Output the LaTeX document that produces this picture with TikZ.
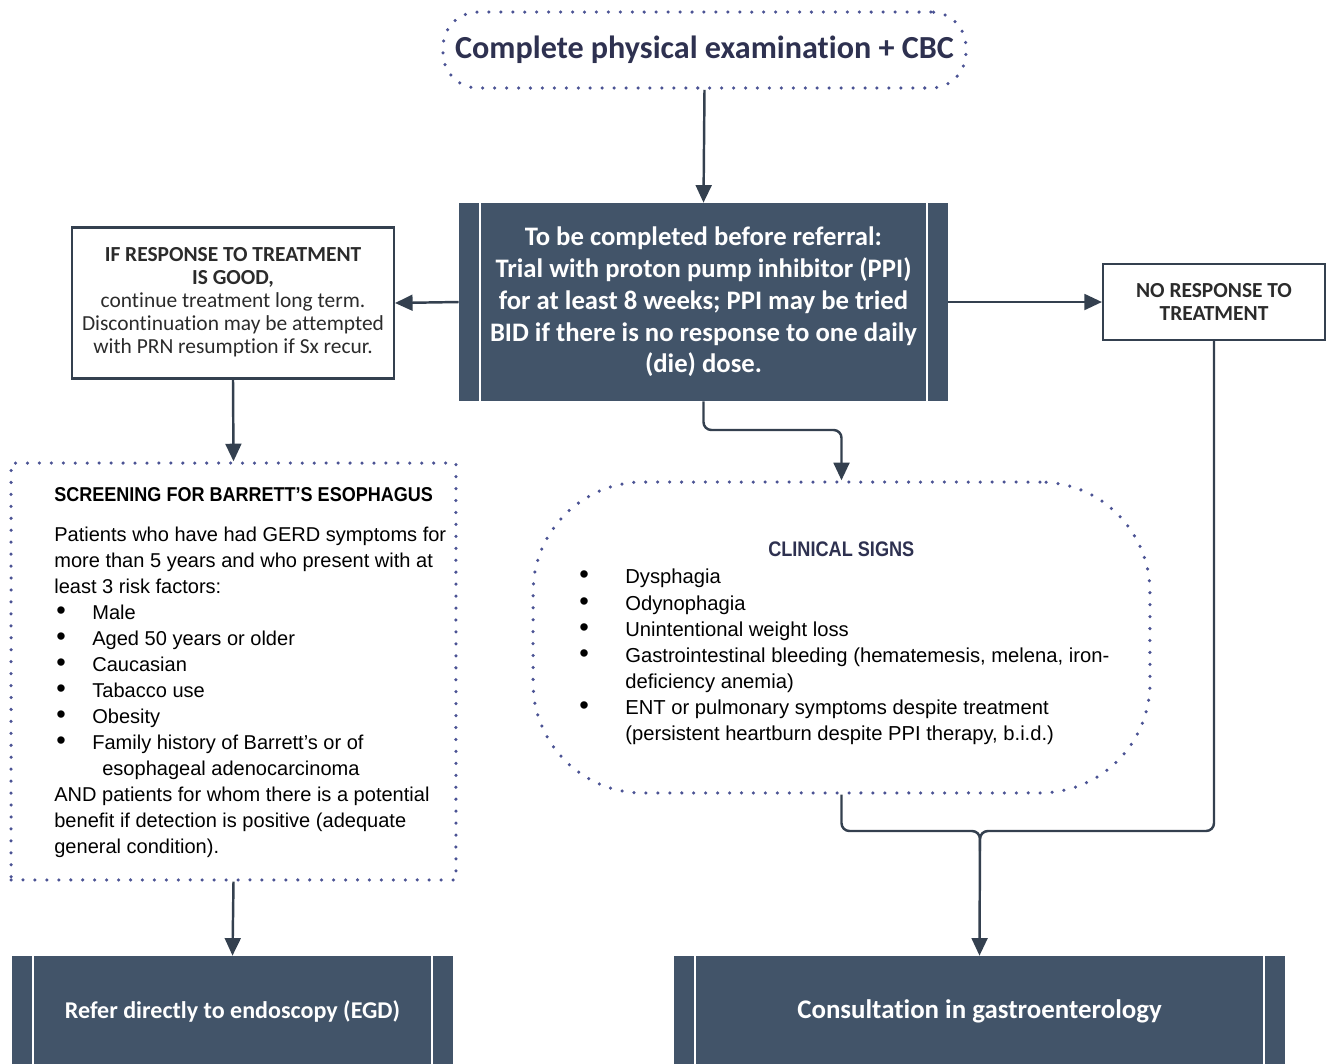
\documentclass[tikz,border=0pt]{standalone}
\usepackage{fontspec}
\setmainfont{Liberation Sans}
\newfontfamily\calfont[Ligatures=NoCommon]{Carlito}
\newfontfamily\narrowfont[FakeStretch=0.86]{Liberation Sans}
\newfontfamily\headfont[FakeStretch=0.9]{Liberation Sans}
\usetikzlibrary{arrows.meta}
\definecolor{slate}{HTML}{425469}
\definecolor{edgecol}{HTML}{34404F}
\definecolor{dotcol}{HTML}{4B5394}
\definecolor{navy}{HTML}{2E3150}
\definecolor{greytext}{HTML}{2B2B2B}
\newcommand{\bigdot}{\scalebox{1.35}{\textbullet}}
\newcommand{\bitem}[1]{\makebox[0.76cm][l]{\hspace{1.2pt}\bigdot}#1}
\newcommand{\citem}[1]{\makebox[0.96cm][l]{\hspace{1.2pt}\bigdot}#1}

\begin{document}
\begin{tikzpicture}[x=0.02cm,y=-0.02cm]
\tikzset{procbox/.style={fill=slate, text=white, align=center, inner sep=0pt}}
\tikzset{linebox/.style={draw=edgecol, line width=1.2pt, align=center, text=greytext, inner sep=0pt}}
\tikzset{dotline/.style={draw=dotcol, line width=2pt, line cap=round, dash pattern=on 0pt off 6.8pt}}
\tikzset{barline/.style={draw=white, line width=1.3pt}}
\tikzset{conn/.style={draw=edgecol, line width=1.4pt}}
\tikzset{arr/.style={conn, -{Triangle[length=10pt, width=9pt]}}}
\useasboundingbox (0,0) rectangle (1326,1063);

\node[dotline, rounded corners=0.7cm, minimum width=10.46cm, minimum height=1.52cm, inner sep=0pt, text=navy, font=\calfont\bfseries\fontsize{18.3}{22}\selectfont] (exam) at (704.5,50) {Complete physical examination + CBC};

\node[procbox, minimum width=9.78cm, minimum height=3.96cm, font=\calfont\bfseries\fontsize{15.2}{18.1}\selectfont] (ppi) at (703.5,302) {To be completed before referral:\\ Trial with proton pump inhibitor (PPI)\\ for at least 8 weeks; PPI may be tried\\ BID if there is no response to one daily\\ (die) dose.};

\node[linebox, minimum width=6.44cm, minimum height=3.02cm, font=\calfont\fontsize{12.2}{13}\selectfont] (good) at (233,303) {\textbf{IF RESPONSE TO TREATMENT}\\ \textbf{IS GOOD,}\\ continue treatment long term.\\ Discontinuation may be attempted\\ with PRN resumption if Sx recur.\rule[-3pt]{0pt}{0pt}};

\node[linebox, minimum width=4.44cm, minimum height=1.52cm, font=\calfont\bfseries\fontsize{12.2}{13}\selectfont] (nores) at (1214,302) {NO RESPONSE TO\\ TREATMENT};

\node[dotline, minimum width=8.9cm, minimum height=8.34cm] (barrett) at (233.5,671.5) {};
\node[anchor=north west, align=left, inner sep=0pt, text=black, font=\fontsize{11.4}{14.8}\selectfont] (barretttext) at (54,487) {{\headfont\bfseries SCREENING FOR BARRETT’S ESOPHAGUS}\\[8pt]
Patients who have had GERD symptoms for\\
more than 5 years and who present with at\\
least 3 risk factors:\\
\bitem{Male}\\
\bitem{Aged 50 years or older}\\
\bitem{Caucasian}\\
\bitem{Tabacco use}\\
\bitem{Obesity}\\
\bitem{Family history of Barrett’s or of}\\
\hspace*{0.96cm}esophageal adenocarcinoma\\
AND patients for whom there is a potential\\
benefit if detection is positive (adequate\\
general condition).};

\node[dotline, rounded corners=2.2cm, minimum width=12.34cm, minimum height=6.22cm] (clinical) at (841.5,637.5) {};
\node[anchor=north west, align=left, inner sep=0pt, text=black, font=\fontsize{11.5}{14.85}\selectfont] (clinicaltext) at (577,541) {\makebox[10.56cm][c]{\narrowfont\fontsize{12}{14.85}\selectfont\color{navy}\bfseries CLINICAL SIGNS}\\[1pt]
\citem{Dysphagia}\\
\citem{Odynophagia}\\
\citem{Unintentional weight loss}\\
\citem{Gastrointestinal bleeding (hematemesis, melena, iron-}\\
\hspace*{0.96cm}deficiency anemia)\\
\citem{ENT or pulmonary symptoms despite treatment}\\
\hspace*{0.96cm}(persistent heartburn despite PPI therapy, b.i.d.)};

\node[procbox, minimum width=8.82cm, minimum height=2.2cm, font=\calfont\bfseries\fontsize{13.7}{16}\selectfont] (egd) at (232.5,1011) {Refer directly to endoscopy (EGD)};
\node[procbox, minimum width=12.22cm, minimum height=2.2cm, font=\calfont\bfseries\fontsize{15.3}{18}\selectfont] (gastro) at (979.5,1011) {Consultation in gastroenterology};

\foreach \n in {ppi, egd, gastro} {
  \draw[barline] ([xshift=0.42cm]\n.north west) -- ([xshift=0.42cm]\n.south west);
  \draw[barline] ([xshift=-0.42cm]\n.north east) -- ([xshift=-0.42cm]\n.south east);
}

\coordinate (split) at (841.5,430);
\coordinate (merge) at (980,831);
\draw[arr] (exam.south) -- (ppi.north);
\draw[arr] (ppi.west) -- (good.east);
\draw[arr] (ppi.east) -- (nores.west);
\draw[arr] (good.south) -- (barrett.north);
\draw[arr, rounded corners=4.5pt] (ppi.south) |- (split) -- (clinical.north);
\draw[arr] (barrett.south) -- (egd.north);
\draw[arr, rounded corners=4.5pt] (clinical.south) |- (merge) -- (gastro.north);
\draw[conn, rounded corners=4.5pt] (nores.south) |- (merge) -- ++(0,20);
\end{tikzpicture}
\end{document}
